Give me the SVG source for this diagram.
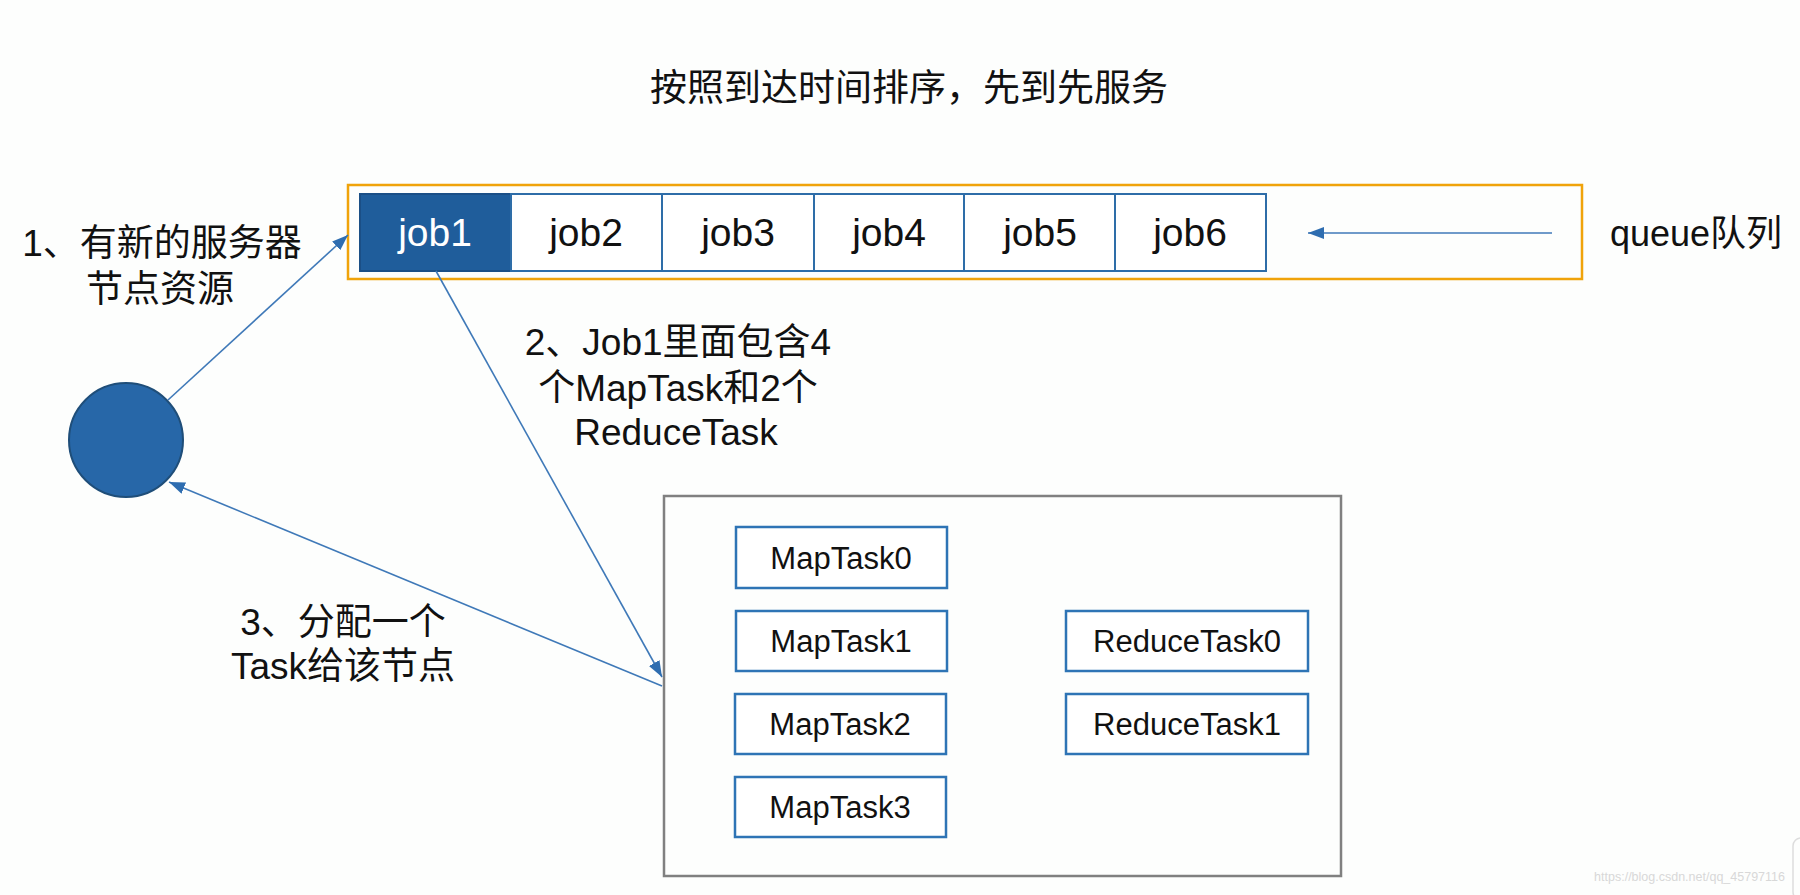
<svg xmlns="http://www.w3.org/2000/svg" width="1800" height="895" viewBox="0 0 1800 895">
  <style>
    .t { font-family: "Liberation Sans", "Noto Sans CJK SC", sans-serif; fill: #111; }
    .lbl { font-size: 37px; text-anchor: middle; }
    .job { font-size: 39px; text-anchor: middle; }
    .cell { fill: #ffffff; stroke: #2E6DA8; stroke-width: 2; }
    .task { fill: #ffffff; stroke: #2E74B5; stroke-width: 2.5; }
    .tt { font-size: 31px; text-anchor: middle; }
    .conn { stroke: #3F79B8; stroke-width: 1.6; fill: none; marker-end: url(#ah); }
  </style>
  <defs>
    <marker id="ah" markerUnits="userSpaceOnUse" markerWidth="18" markerHeight="14" refX="16" refY="6" orient="auto">
      <path d="M0,0 L16,6 L0,12 z" fill="#2E6DB0"/>
    </marker>
  </defs>
  <rect x="0" y="0" width="1800" height="895" fill="#FDFEFD"/>

  <g id="title">
    <text class="t lbl" x="909" y="101">按照到达时间排序，先到先服务</text>
  </g>

  <g id="queue">
    <rect x="348" y="185" width="1234" height="94" fill="none" stroke="#F0A30A" stroke-width="2.5"/>
  </g>

  <g id="job1">
    <rect x="360" y="194" width="151" height="77" fill="#1F5D9B" stroke="#1B4F86" stroke-width="2"/>
    <text class="t job" x="435" y="246" style="fill:#ffffff">job1</text>
  </g>
  <g id="job2">
    <rect class="cell" x="511" y="194" width="151" height="77"/>
    <text class="t job" x="586" y="246">job2</text>
  </g>
  <g id="job3">
    <rect class="cell" x="662" y="194" width="152" height="77"/>
    <text class="t job" x="738" y="246">job3</text>
  </g>
  <g id="job4">
    <rect class="cell" x="814" y="194" width="150" height="77"/>
    <text class="t job" x="889" y="246">job4</text>
  </g>
  <g id="job5">
    <rect class="cell" x="964" y="194" width="151" height="77"/>
    <text class="t job" x="1040" y="246">job5</text>
  </g>
  <g id="job6">
    <rect class="cell" x="1115" y="194" width="151" height="77"/>
    <text class="t job" x="1190" y="246">job6</text>
  </g>

  <g id="queue-label">
    <text class="t" x="1610" y="246" style="font-size:36px">queue队列</text>
  </g>

  <g id="node">
    <circle cx="126" cy="440" r="57" fill="#2767A8" stroke="#1F4E79" stroke-width="2"/>
  </g>

  <g id="label1">
    <text class="t lbl" x="162" y="256">1、有新的服务器</text>
    <text class="t lbl" x="160" y="302">节点资源</text>
  </g>

  <g id="label2">
    <text class="t lbl" x="678" y="355">2、Job1里面包含4</text>
    <text class="t lbl" x="678" y="401">个MapTask和2个</text>
    <text class="t lbl" x="676" y="445">ReduceTask</text>
  </g>

  <g id="label3">
    <text class="t lbl" x="343" y="635">3、分配一个</text>
    <text class="t lbl" x="343" y="679">Task给该节点</text>
  </g>

  <g id="taskbox">
    <rect x="664" y="496" width="677" height="380" fill="#FDFEFD" stroke="#808080" stroke-width="2.5"/>
  </g>

  <g id="maptask0">
    <rect class="task" x="736" y="527" width="211" height="61"/>
    <text class="t tt" x="841" y="569">MapTask0</text>
  </g>
  <g id="maptask1">
    <rect class="task" x="736" y="611" width="211" height="60"/>
    <text class="t tt" x="841" y="652">MapTask1</text>
  </g>
  <g id="maptask2">
    <rect class="task" x="735" y="694" width="211" height="60"/>
    <text class="t tt" x="840" y="735">MapTask2</text>
  </g>
  <g id="maptask3">
    <rect class="task" x="735" y="777" width="211" height="60"/>
    <text class="t tt" x="840" y="818">MapTask3</text>
  </g>
  <g id="reducetask0">
    <rect class="task" x="1066" y="611" width="242" height="60"/>
    <text class="t tt" x="1187" y="652">ReduceTask0</text>
  </g>
  <g id="reducetask1">
    <rect class="task" x="1066" y="694" width="242" height="60"/>
    <text class="t tt" x="1187" y="735">ReduceTask1</text>
  </g>

  <g id="connectors">
    <line class="conn" x1="1552" y1="233" x2="1308" y2="233"/>
    <line class="conn" x1="168" y1="400" x2="348" y2="235"/>
    <line class="conn" x1="436" y1="271" x2="662" y2="677"/>
    <line class="conn" x1="662" y1="686" x2="169" y2="482"/>
  </g>

  <g id="watermark">
    <text x="1785" y="881" style="font-family:'Liberation Sans',sans-serif;font-size:12.5px;fill:#D8D8D8;text-anchor:end">https://blog.csdn.net/qq_45797116</text>
    <rect x="1793" y="838" width="30" height="62" rx="8" fill="none" stroke="#DDDDDD" stroke-width="1.5"/>
  </g>
</svg>
